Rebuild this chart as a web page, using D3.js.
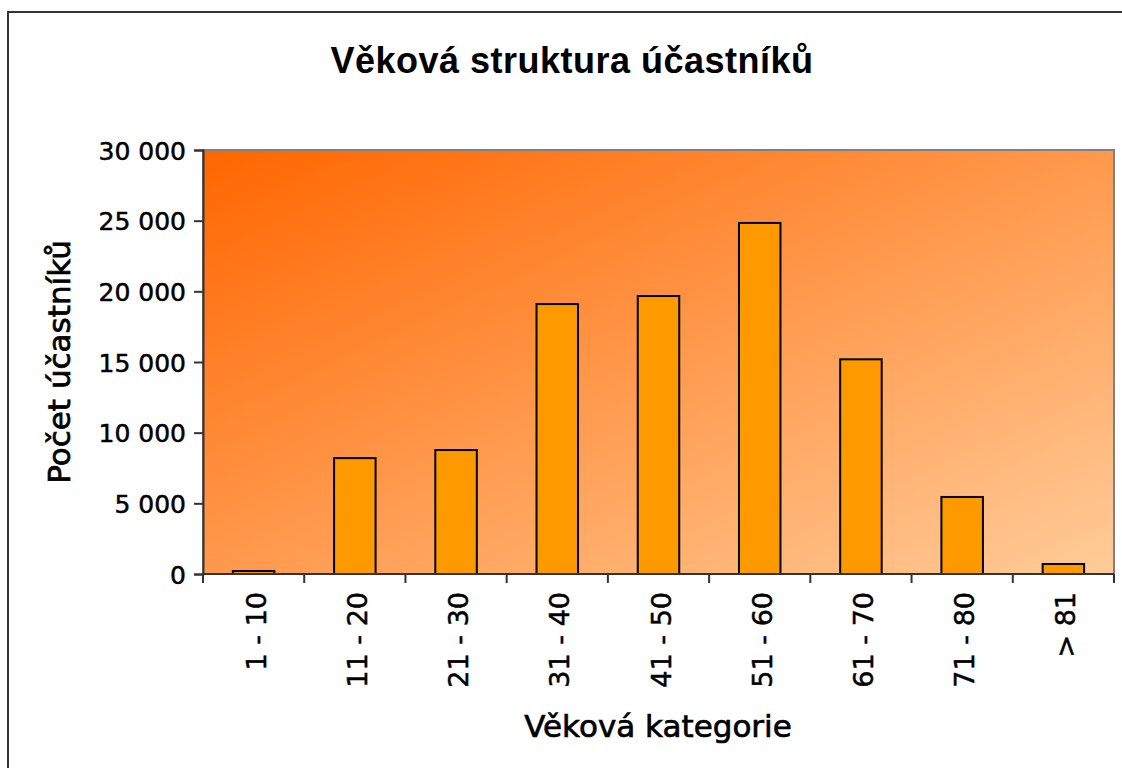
<!DOCTYPE html>
<html>
<head>
<meta charset="utf-8">
<script src="https://cdn.jsdelivr.net/npm/d3@7"></script>
<style>
  body { margin: 0; background: #fff; }
  svg { display: block; }
</style>
</head>
<body>
<div id="chart"></div>
<script>
// data
const categories = ["1 - 10", "11 - 20", "21 - 30", "31 - 40", "41 - 50", "51 - 60", "61 - 70", "71 - 80", "> 81"];
const counts = [210, 8200, 8770, 19100, 19670, 24840, 15190, 5450, 710];
const yTicks = [0, 5000, 10000, 15000, 20000, 25000, 30000];

const width = 1122, height = 768;
const plot = { left: 203, top: 150, right: 1114, bottom: 574 };
const labelFont = "DejaVu Sans, Verdana, sans-serif";

const svg = d3.select("#chart")
  .append("svg")
  .attr("width", width)
  .attr("height", height);

// outer frame
svg.append("rect")
  .attr("x", 8).attr("y", 12)
  .attr("width", 1130).attr("height", 780)
  .attr("fill", "none")
  .attr("stroke", "#333")
  .attr("stroke-width", 2);

const defs = svg.append("defs");
const grad = defs.append("linearGradient")
  .attr("id", "bg")
  .attr("x1", "0%").attr("y1", "0%")
  .attr("x2", "100%").attr("y2", "100%");
grad.append("stop").attr("offset", "0%").attr("stop-color", "#ff6600");
grad.append("stop").attr("offset", "100%").attr("stop-color", "#ffcc99");

const x = d3.scaleBand()
  .domain(categories)
  .range([plot.left, plot.right])
  .paddingInner(0.59)
  .paddingOuter(0.295);

const y = d3.scaleLinear()
  .domain([0, 30000])
  .range([plot.bottom, plot.top]);

// plot background
svg.append("rect")
  .attr("x", plot.left).attr("y", plot.top)
  .attr("width", plot.right - plot.left)
  .attr("height", plot.bottom - plot.top)
  .attr("fill", "url(#bg)")
  .attr("stroke", "#808080")
  .attr("stroke-width", 2);

// bars
svg.append("g")
  .selectAll("rect")
  .data(counts)
  .enter()
  .append("rect")
  .attr("x", (d, i) => x(categories[i]))
  .attr("y", d => y(d))
  .attr("width", x.bandwidth())
  .attr("height", d => y(0) - y(d))
  .attr("fill", "#ff9900")
  .attr("stroke", "#000")
  .attr("stroke-width", 2);

const fmt = d => d3.format(",")(d).replace(/,/g, " ");

// y axis
const yAxis = svg.append("g")
  .attr("transform", `translate(${plot.left},0)`)
  .call(d3.axisLeft(y).tickValues(yTicks).tickFormat(fmt).tickSize(9).tickPadding(8));
yAxis.select(".domain").attr("stroke", "#333").attr("stroke-width", 2);
yAxis.selectAll(".tick line").attr("stroke", "#333").attr("stroke-width", 2);
yAxis.selectAll(".tick text")
  .attr("font-family", labelFont)
  .attr("font-size", 25)
  .attr("dy", "0.36em")
  .attr("fill", "#000")
  .attr("stroke", "#000")
  .attr("stroke-width", 0.5);

// x axis: ticks on band edges
const edges = categories.map(c => x(c) - x.step() * x.paddingInner() / 2).concat([plot.right]);
svg.append("line")
  .attr("x1", plot.left).attr("x2", plot.right)
  .attr("y1", plot.bottom).attr("y2", plot.bottom)
  .attr("stroke", "#333").attr("stroke-width", 2);
svg.append("g")
  .selectAll("line")
  .data(edges)
  .enter()
  .append("line")
  .attr("x1", d => d).attr("x2", d => d)
  .attr("y1", plot.bottom).attr("y2", plot.bottom + 9)
  .attr("stroke", "#333").attr("stroke-width", 2);

svg.append("g")
  .selectAll("text")
  .data(categories)
  .enter()
  .append("text")
  .attr("transform", d => `translate(${x(d) + x.bandwidth() / 2 + 12},592) rotate(-90)`)
  .attr("text-anchor", "end")
  .attr("font-family", labelFont)
  .attr("font-size", 27)
  .attr("fill", "#000")
  .attr("stroke", "#000")
  .attr("stroke-width", 0.5)
  .text(d => d);

// title
svg.append("text")
  .attr("x", 572).attr("y", 73)
  .attr("text-anchor", "middle")
  .attr("font-family", "Liberation Sans, Arial, sans-serif")
  .attr("font-weight", "bold")
  .attr("font-size", 36)
  .attr("letter-spacing", 0.5)
  .text("Věková struktura účastníků");

// axis titles
svg.append("text")
  .attr("x", 658).attr("y", 737)
  .attr("text-anchor", "middle")
  .attr("font-family", labelFont)
  .attr("font-size", 31)
  .attr("stroke", "#000")
  .attr("stroke-width", 0.7)
  .text("Věková kategorie");

svg.append("text")
  .attr("transform", "translate(70,362) rotate(-90)")
  .attr("text-anchor", "middle")
  .attr("font-family", labelFont)
  .attr("font-size", 31)
  .attr("stroke", "#000")
  .attr("stroke-width", 0.7)
  .text("Počet účastníků");
</script>
</body>
</html>
